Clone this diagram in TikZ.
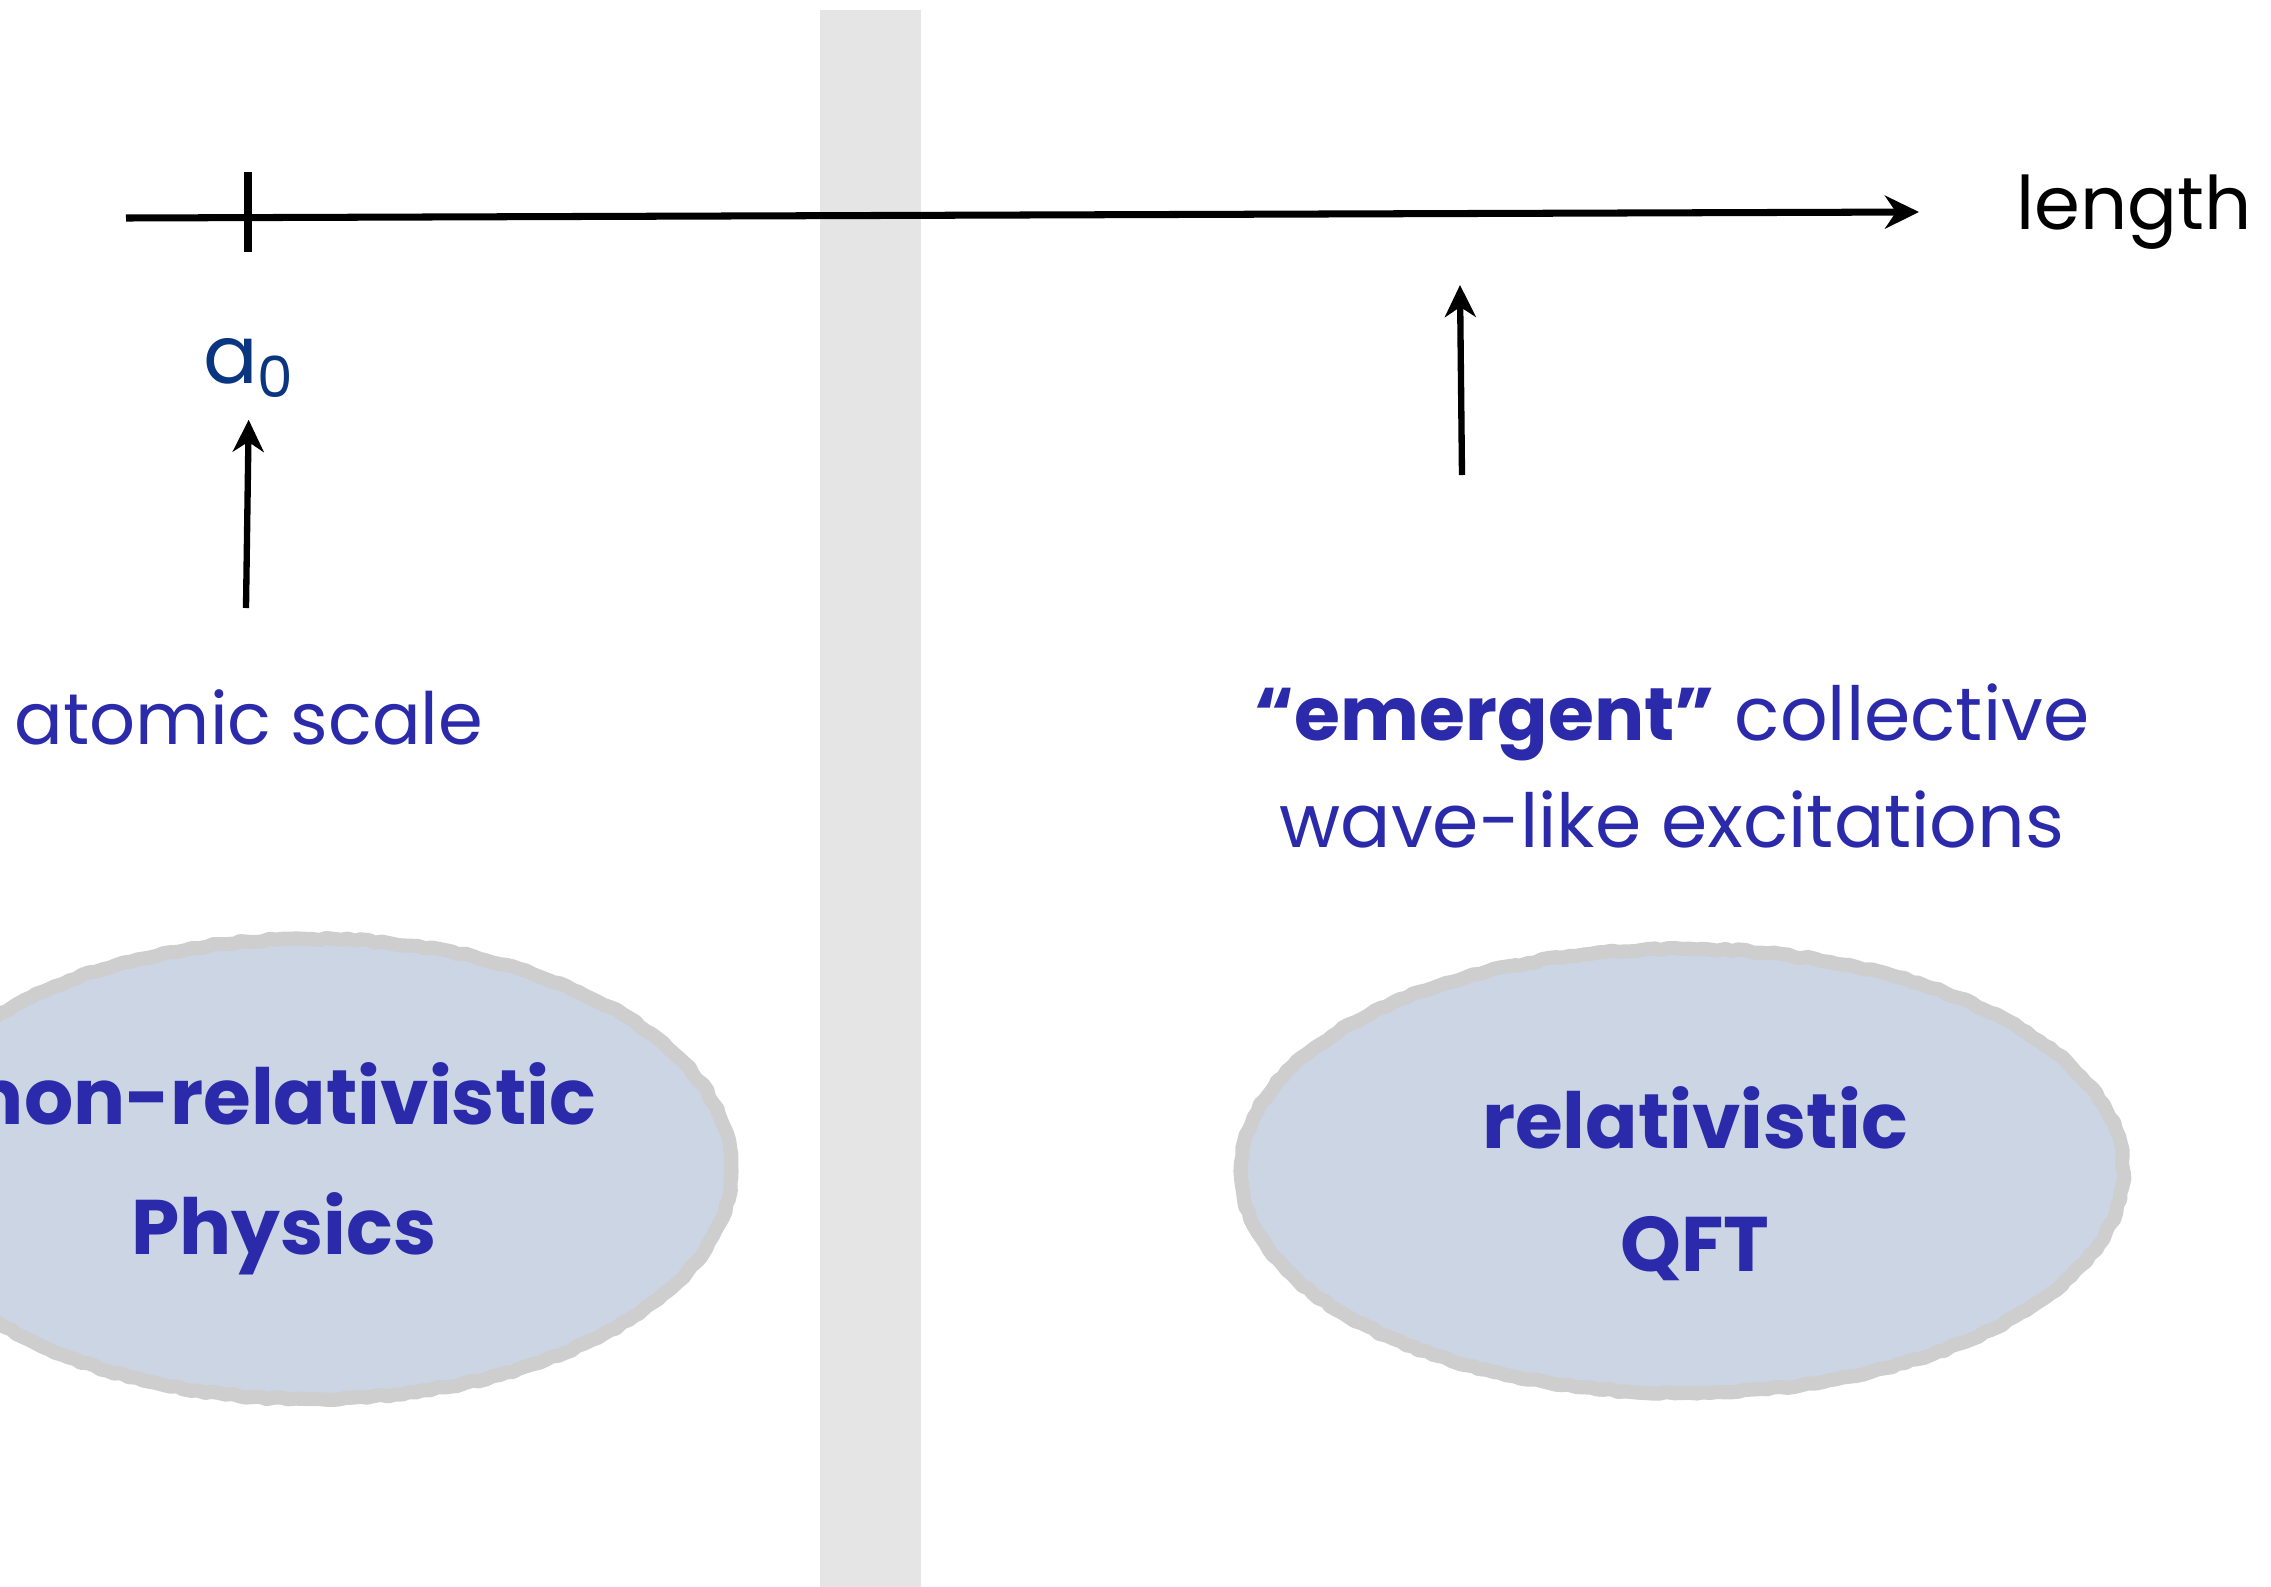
\documentclass[tikz,border=0pt]{standalone}
\usepackage{fontspec}
\setmainfont{Poppins}
\usetikzlibrary{positioning}
\usetikzlibrary{arrows.meta}
\usetikzlibrary{shapes.geometric}
\usetikzlibrary{decorations.pathmorphing}

\definecolor{txtblue}{RGB}{42,42,170}
\definecolor{navy}{RGB}{10,53,128}
\definecolor{blobfill}{RGB}{203,213,227}
\definecolor{blobedge}{RGB}{206,206,206}
\definecolor{bandgray}{RGB}{229,229,229}

\begin{document}
\begin{tikzpicture}[
    x=0.01cm, y=-0.01cm,
    lbl/.style={text=txtblue, font=\fontsize{20.5}{30}\selectfont, align=center, inner sep=0pt},
    heavy/.style={lbl, font=\fontsize{22}{36}\selectfont\bfseries},
    blob/.style={ellipse, draw=blobedge, fill=blobfill, line width=4pt, line join=round,
      decorate, decoration={random steps, segment length=2pt, amplitude=0.35pt}},
    arr/.style={-{Stealth[length=3.2mm,width=3.1mm,inset=1mm]}, line width=1.8pt}
    ]

    \useasboundingbox (0,0) rectangle (2271,1587);
    \fill[bandgray] (820,10) rectangle (921,1587);

    % length axis
    \coordinate (axl) at (126,218);
    \coordinate (axr) at (1919,212);
    \draw[line width=2pt, -{Stealth[length=3.4mm,width=3.3mm,inset=1.1mm]}] (axl) -- (axr);
    \node[font=\fontsize{21}{25}\selectfont, anchor=west, inner sep=0pt, right=0.97cm of axr] (len) {length};
    \coordinate (ticktop) at (248,172);
    \coordinate (tickbot) at (248,252);
    \draw[line width=2pt] (ticktop) -- (tickbot);

    % left side
    \node[lbl, text=navy, font=\fontsize{23}{28}\selectfont] (a0) at (249,368) {a\textsubscript{0}};
    \node[lbl] (atomic) at (249,717) {atomic scale};
    \coordinate (atfoot) at (246,608);
    \draw[arr, shorten >=0.22cm] (atfoot) -- (a0.south);

    \node[blob, minimum width=8.4cm, minimum height=4.6cm] (nonrel) at (311,1169) {};
    \node[heavy, font=\fontsize{22}{37}\selectfont\bfseries] (nonreltxt) at (284,1169) {non-relativistic\\Physics};

    % right side
    \node[lbl, font=\fontsize{21.2}{30.5}\selectfont] (emerg) at (1672,766) {\textbf{“emergent”} collective\\wave-like excitations};
    \coordinate (emfoot) at (1462,475);
    \coordinate (emtip) at (1460,285);
    \draw[arr] (emfoot) -- (emtip);

    \node[blob, minimum width=8.82cm, minimum height=4.44cm] (rel) at (1682,1171) {};
    \node[heavy, font=\fontsize{22}{35}\selectfont\bfseries] (reltxt) at (1695,1184) {relativistic\\QFT};

\end{tikzpicture}
\end{document}
